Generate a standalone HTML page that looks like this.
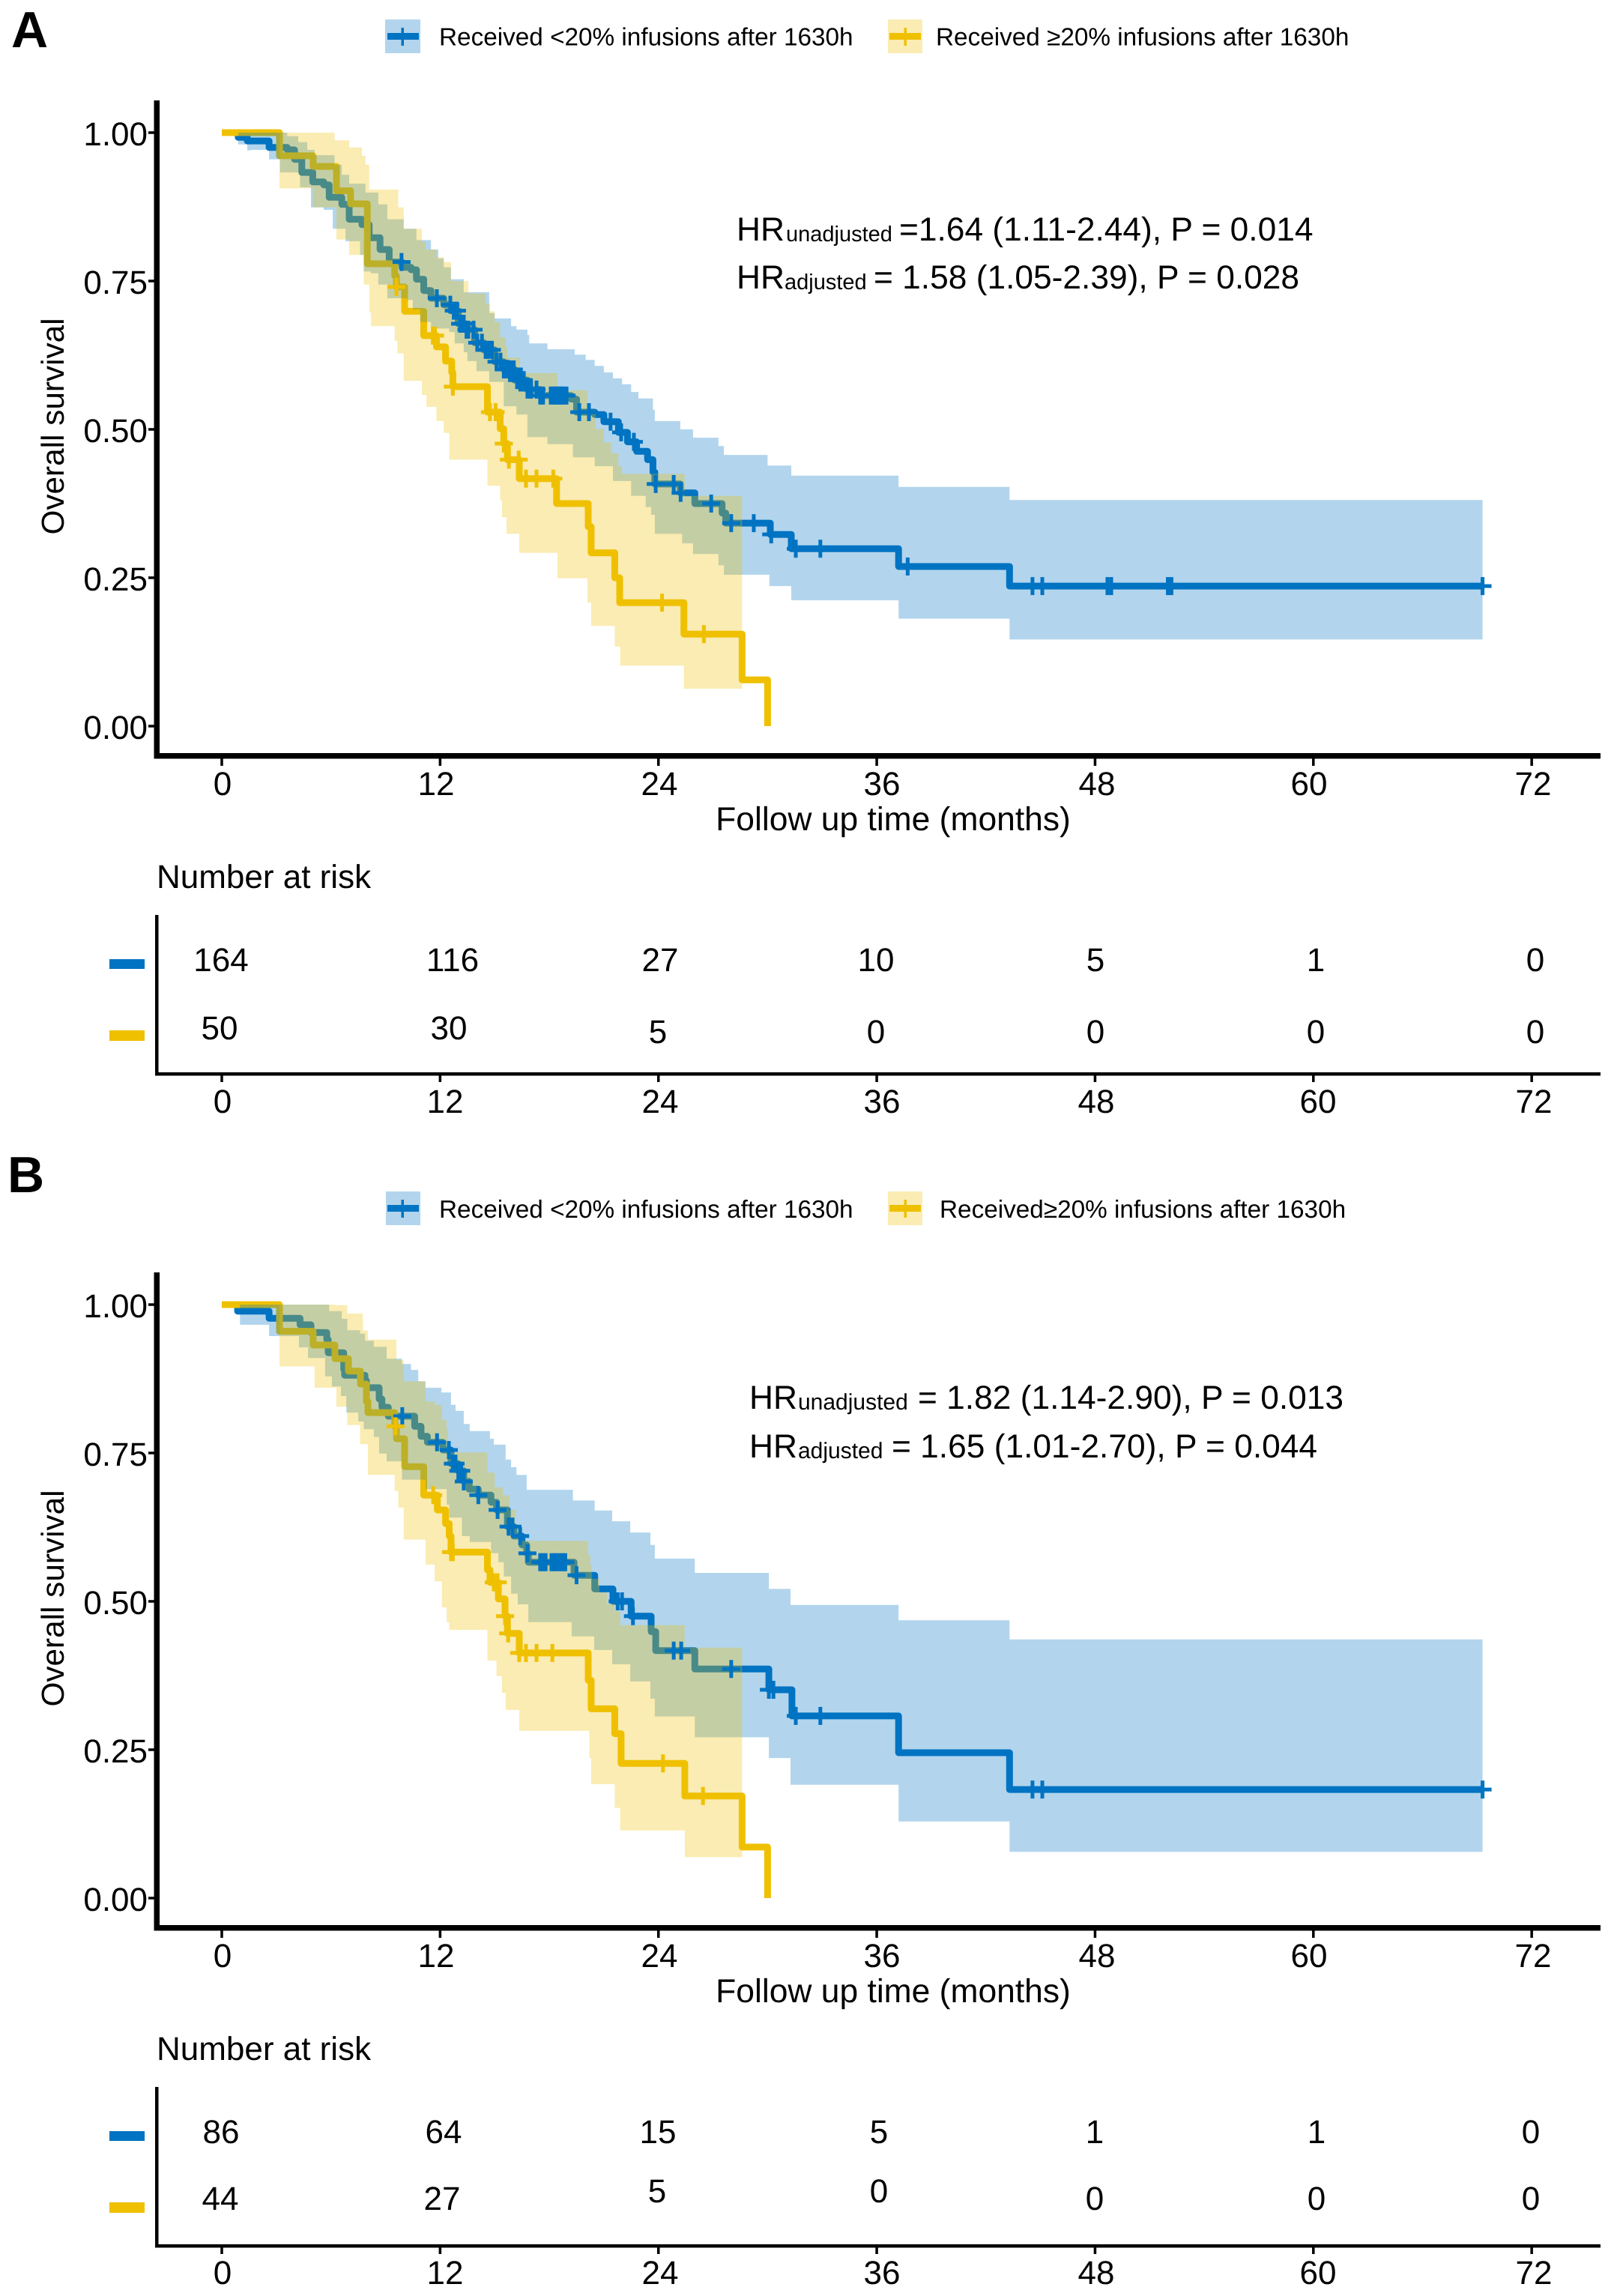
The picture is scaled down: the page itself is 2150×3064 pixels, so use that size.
<!DOCTYPE html>
<html lang="en">
<head>
<meta charset="utf-8">
<title>Overall survival by late infusion share</title>
<style>
html,body{margin:0;padding:0;background:#fff;}
svg{display:block;}
text{font-family:"Liberation Sans",Arial,sans-serif;fill:#000;text-rendering:geometricPrecision;}
.t44{font-size:44px;}
.hr{font-size:44.3px;}
.ttl{font-size:44.4px;text-anchor:middle;}
.m{font-size:44px;text-anchor:middle;}
.leg{font-size:33.3px;}
.sub{font-size:29px;}
.sub30{font-size:30px;}
.letter{font-size:68px;font-weight:bold;}
</style>
</head>
<body>
<svg id="figure" xmlns="http://www.w3.org/2000/svg" width="2150" height="3064" viewBox="0 0 2150 3064">
<rect x="0" y="0" width="2150" height="3064" fill="#fff"/>

<!-- PANEL A static text -->
<text class="letter" x="15" y="63">A</text>
<g>
<rect x="514" y="26" width="47" height="45" fill="#0073C2" fill-opacity="0.3"/>
<rect x="517" y="44" width="42" height="9" fill="#0073C2"/>
<rect x="535.5" y="37" width="3.5" height="24" fill="#0073C2"/>
<text class="leg" x="586" y="60.5">Received &lt;20% infusions after 1630h</text>
<rect x="1185" y="26" width="46" height="45" fill="#EFC000" fill-opacity="0.3"/>
<rect x="1187" y="44" width="42" height="9" fill="#EFC000"/>
<rect x="1206.5" y="37" width="3.5" height="24" fill="#EFC000"/>
<text class="leg" x="1249" y="60.5">Received ≥20% infusions after 1630h</text>
</g>
<text class="hr" x="983" y="321">HR<tspan class="sub" x="1049" dy="1">unadjusted</tspan><tspan x="1200" dy="-1">=1.64 (1.11-2.44), P = 0.014</tspan></text>
<text class="hr" x="983" y="385">HR<tspan class="sub" x="1047" dy="1">adjusted</tspan><tspan x="1166" dy="-1">= 1.58 (1.05-2.39), P = 0.028</tspan></text>
<text transform="translate(85,569) rotate(-90)" text-anchor="middle" font-size="42.3">Overall survival</text>
<text class="ttl" x="1192" y="1108">Follow up time (months)</text>
<g>
<text class="m" x="297" y="1061">0</text>
<text class="m" x="582" y="1061">12</text>
<text class="m" x="880" y="1061">24</text>
<text class="m" x="1177" y="1061">36</text>
<text class="m" x="1464" y="1061">48</text>
<text class="m" x="1747" y="1061">60</text>
<text class="m" x="2046" y="1061">72</text>
</g>
<text class="t44" x="209" y="1185">Number at risk</text>
<rect x="146" y="1280" width="47" height="13" fill="#0073C2"/>
<rect x="146" y="1375" width="47" height="14" fill="#EFC000"/>
<g>
<text class="m" x="295" y="1296">164</text>
<text class="m" x="604" y="1296">116</text>
<text class="m" x="881" y="1296">27</text>
<text class="m" x="1169" y="1296">10</text>
<text class="m" x="1462" y="1296">5</text>
<text class="m" x="1756" y="1296">1</text>
<text class="m" x="2049" y="1296">0</text>
</g>
<g>
<text class="m" x="293" y="1387">50</text>
<text class="m" x="599" y="1387">30</text>
<text class="m" x="878" y="1392">5</text>
<text class="m" x="1169" y="1392">0</text>
<text class="m" x="1462" y="1392">0</text>
<text class="m" x="1756" y="1392">0</text>
<text class="m" x="2049" y="1392">0</text>
</g>
<g>
<text class="m" x="297" y="1485">0</text>
<text class="m" x="594" y="1485">12</text>
<text class="m" x="881" y="1485">24</text>
<text class="m" x="1177" y="1485">36</text>
<text class="m" x="1463" y="1485">48</text>
<text class="m" x="1759" y="1485">60</text>
<text class="m" x="2047" y="1485">72</text>
</g>

<!-- PANEL B static text -->
<text class="letter" x="10" y="1591">B</text>
<g>
<rect x="515" y="1590" width="46" height="45" fill="#0073C2" fill-opacity="0.3"/>
<rect x="517" y="1608" width="42" height="9" fill="#0073C2"/>
<rect x="535.5" y="1601" width="3.5" height="24" fill="#0073C2"/>
<text class="leg" x="586" y="1625">Received &lt;20% infusions after 1630h</text>
<rect x="1185" y="1590" width="46" height="45" fill="#EFC000" fill-opacity="0.3"/>
<rect x="1187" y="1608" width="42" height="9" fill="#EFC000"/>
<rect x="1206.5" y="1601" width="3.5" height="24" fill="#EFC000"/>
<text class="leg" x="1254" y="1625">Received≥20% infusions after 1630h</text>
</g>
<text class="hr" x="1000" y="1880">HR<tspan class="sub30" x="1065" dy="1">unadjusted</tspan><tspan x="1225" dy="-1">= 1.82 (1.14-2.90), P = 0.013</tspan></text>
<text class="hr" x="1000" y="1945">HR<tspan class="sub30" x="1065" dy="1">adjusted</tspan><tspan x="1190" dy="-1">= 1.65 (1.01-2.70), P = 0.044</tspan></text>
<text transform="translate(85,2133) rotate(-90)" text-anchor="middle" font-size="42.3">Overall survival</text>
<text class="ttl" x="1192" y="2672">Follow up time (months)</text>
<g>
<text class="m" x="297" y="2625">0</text>
<text class="m" x="582" y="2625">12</text>
<text class="m" x="880" y="2625">24</text>
<text class="m" x="1177" y="2625">36</text>
<text class="m" x="1464" y="2625">48</text>
<text class="m" x="1747" y="2625">60</text>
<text class="m" x="2046" y="2625">72</text>
</g>
<text class="t44" x="209" y="2749">Number at risk</text>
<rect x="146" y="2844" width="47" height="13" fill="#0073C2"/>
<rect x="146" y="2939" width="47" height="14" fill="#EFC000"/>
<g>
<text class="m" x="295" y="2860">86</text>
<text class="m" x="592" y="2860">64</text>
<text class="m" x="878" y="2860">15</text>
<text class="m" x="1173" y="2860">5</text>
<text class="m" x="1461" y="2860">1</text>
<text class="m" x="1757" y="2860">1</text>
<text class="m" x="2043" y="2860">0</text>
</g>
<g>
<text class="m" x="294" y="2949">44</text>
<text class="m" x="590" y="2949">27</text>
<text class="m" x="877" y="2939">5</text>
<text class="m" x="1173" y="2939">0</text>
<text class="m" x="1461" y="2949">0</text>
<text class="m" x="1757" y="2949">0</text>
<text class="m" x="2043" y="2949">0</text>
</g>
<g>
<text class="m" x="297" y="3048">0</text>
<text class="m" x="594" y="3048">12</text>
<text class="m" x="881" y="3048">24</text>
<text class="m" x="1177" y="3048">36</text>
<text class="m" x="1463" y="3048">48</text>
<text class="m" x="1759" y="3048">60</text>
<text class="m" x="2047" y="3048">72</text>
</g>
</svg>

<script>
// Axis ticks
var xTicks = [0, 12, 24, 36, 48, 60, 72];
var yTicks = [0, 0.25, 0.5, 0.75, 1];
var yTickLabels = ['0.00', '0.25', '0.50', '0.75', '1.00'];

// Panel A, blue group (<20%)
var aBlueTime = [0,0.9,1.4,2.6,3.6,4.0,4.4,5.0,5.6,5.9,6.6,7.0,7.7,8.1,8.7,9.2,9.9,10.4,10.7,11.1,11.5,12.2,12.6,13.0,13.4,13.9,14.4,15.0,15.5,16.1,16.8,17.5,19.2,19.5,20.5,21.0,21.8,22.3,22.8,23.4,23.7,23.8,25.2,26.0,27.5,27.7,30.15,31.3,37.2,43.3,69.3];
var aBlueSurv = [1,.992,.986,.975,.971,.955,.933,.917,.912,.891,.879,.854,.845,.823,.803,.782,.773,.769,.753,.734,.721,.710,.700,.678,.668,.646,.634,.614,.601,.583,.567,.557,.551,.529,.525,.513,.495,.479,.463,.449,.428,.408,.393,.375,.359,.342,.323,.299,.269,.236,.236];
var aBlueUpperTime = [0,3.3,3.6,4.2,4.7,5.1,6.2,6.6,7.0,7.9,8.6,9.1,10.0,10.7,11.5,11.9,12.2,12.6,13.3,14.7,15.0,15.9,16.2,16.8,16.9,17.9,19.4,20.0,20.5,21.0,21.5,22.0,22.5,22.9,23.7,23.8,25.2,25.9,27.3,27.6,30.0,31.3,37.2,43.3,69.3];
var aBlueUpper = [1,1,.994,.984,.971,.962,.946,.929,.914,.899,.879,.854,.838,.819,.803,.788,.773,.753,.731,.696,.687,.674,.668,.659,.645,.635,.626,.617,.607,.596,.586,.576,.563,.552,.533,.514,.500,.486,.472,.457,.439,.422,.403,.381,.381];
var aBlueLowerTime = [0,0.9,1.4,1.6,2.6,3.2,4.3,4.9,5.6,6.1,6.8,7.6,7.8,8.2,8.6,9.1,10.2,10.5,10.9,11.5,12.5,12.8,13.3,13.5,14.0,14.7,15.5,16.2,16.8,17.9,19.3,20.5,21.5,22.5,23.3,23.6,23.8,25.3,25.9,27.3,27.6,30.1,31.3,37.2,43.3,69.3];
var aBlueLower = [1,.98,.97,.971,.955,.933,.908,.874,.870,.838,.817,.794,.766,.763,.744,.721,.718,.702,.681,.670,.664,.645,.630,.615,.598,.580,.539,.525,.487,.475,.453,.438,.413,.388,.369,.356,.324,.308,.290,.271,.255,.236,.212,.181,.146,.146];
var aBlueCensor = [9.88,11.82,12.56,12.75,12.93,13.1,13.3,13.45,13.55,13.84,14.04,14.3,14.5,14.66,14.85,15.1,15.32,15.5,15.7,15.86,16.05,16.23,16.4,16.6,16.8,16.95,17.0,17.3,17.5,17.66,18.08,18.2,18.28,18.35,18.45,18.55,18.62,18.7,18.82,18.95,19.65,20.18,21.37,21.95,22.65,23.85,24.84,25.22,26.9,28.0,29.24,30.2,31.55,32.9,37.7,44.56,45.1,48.68,48.89,52.0,52.2,69.3];

// Panel A, yellow group (>=20%)
var aYellowTime = [0,3.17,5.02,6.3,7.08,8.0,9.5,9.6,10.05,11.1,11.8,12.3,12.64,12.7,14.6,15.3,15.5,15.7,16.35,18.4,20.14,20.3,21.6,21.87,25.4,28.6,30.0];
var aYellowSurv = [1,.961,.943,.902,.880,.779,.759,.740,.699,.658,.639,.615,.596,.572,.529,.501,.476,.449,.417,.375,.336,.292,.250,.208,.155,.078,0];
var aYellowUpperTime = [0,6.2,7.0,7.7,7.9,8.1,9.7,10.0,11.0,11.2,11.8,12.2,12.6,13.55,14.5,14.75,15.0,15.3,15.6,15.7,16.4,18.45,20.1,20.55,21.0,21.4,21.8,22.0,25.45,28.6];
var aYellowUpper = [1,.987,.975,.961,.946,.904,.874,.838,.816,.803,.790,.782,.75,.729,.712,.699,.681,.655,.639,.621,.595,.566,.533,.501,.478,.460,.438,.425,.388,.388];
var aYellowLowerTime = [0,3.17,5.0,6.3,7.0,7.8,8.1,8.2,9.5,9.65,10.0,11.0,11.25,11.8,12.2,12.5,14.6,15.3,15.4,15.65,16.35,18.45,20.1,20.3,21.6,21.9,25.4,28.6];
var aYellowLower = [1,.906,.874,.82,.794,.744,.697,.674,.649,.628,.582,.558,.538,.514,.494,.449,.405,.380,.352,.324,.292,.249,.208,.169,.134,.102,.063,.063];
var aYellowCensor = [9.6,11.6,11.72,12.7,14.74,15.05,15.5,15.78,16.32,16.72,17.3,18.22,24.2,26.5];

// Panel B, blue group (<20%)
var bBlueTime = [0,0.87,2.6,4.3,4.9,5.77,5.85,6.7,6.75,7.87,7.95,8.65,8.8,9.15,10.6,10.95,11.3,12.15,12.6,13.0,13.3,13.6,14.1,14.8,15.1,15.7,16.06,16.5,16.76,16.85,19.36,20.5,21.5,22.5,23.6,23.85,26.0,30.07,31.34,37.2,43.3,69.3];
var bBlueSurv = [1,.989,.977,.966,.953,.941,.919,.891,.881,.872,.860,.841,.827,.812,.795,.778,.768,.755,.732,.720,.702,.689,.679,.667,.654,.626,.610,.595,.581,.566,.544,.521,.500,.475,.449,.417,.386,.351,.307,.245,.183,.183];
var bBlueUpperTime = [0,5.9,6.6,6.9,7.6,7.87,8.36,9.06,9.9,10.4,10.8,11.2,12.07,12.6,12.85,13.3,13.63,14.74,14.95,15.6,15.9,16.2,16.76,19.3,20.5,21.46,22.45,23.56,23.8,26.0,30.07,31.26,37.2,43.3,69.3];
var bBlueUpper = [1,.989,.976,.957,.951,.939,.929,.909,.900,.890,.871,.860,.852,.831,.821,.799,.787,.774,.764,.739,.726,.713,.688,.670,.653,.635,.616,.595,.572,.548,.521,.494,.468,.436,.436];
var bBlueLowerTime = [0,1.0,2.6,4.24,4.74,5.68,6.05,6.55,6.84,7.5,7.8,8.36,8.65,9.06,9.9,11.2,12.36,12.5,13.2,13.63,14.8,15.2,15.5,15.9,16.27,16.85,19.23,20.47,21.46,22.45,23.56,23.8,26.0,30.07,31.26,37.2,43.3,69.3];
var bBlueLower = [1,.966,.947,.928,.910,.879,.862,.846,.818,.803,.790,.777,.749,.736,.705,.689,.663,.641,.610,.600,.581,.566,.542,.513,.495,.465,.441,.418,.394,.365,.336,.306,.271,.236,.191,.129,.078,.078];
var bBlueCensor = [9.92,11.83,12.48,12.7,12.85,13.0,13.16,13.3,14.1,15.16,15.76,15.98,16.4,16.8,17.5,17.66,17.8,18.12,18.28,18.4,18.6,18.75,18.88,19.5,21.76,22.0,22.6,24.84,25.25,28.0,30.07,30.32,31.55,32.9,44.56,45.1,69.3];

// Panel B, yellow group (>=20%)
var bYellowTime = [0,3.17,5.02,6.22,6.96,7.62,7.95,8.03,9.5,9.6,10.05,11.1,11.85,12.3,12.5,12.6,14.6,14.74,15.2,15.57,15.7,16.35,20.14,20.3,21.6,21.95,25.45,28.6,30.0];
var bYellowSurv = [1,.955,.932,.909,.888,.866,.837,.818,.795,.774,.727,.679,.654,.631,.610,.583,.553,.532,.504,.475,.446,.413,.367,.319,.277,.227,.172,.086,0];
var bYellowUpperTime = [0,6.22,6.9,7.75,7.76,8.03,9.6,10.0,11.2,11.7,12.1,12.36,12.44,14.6,15.0,15.45,15.8,16.15,16.47,20.14,20.26,20.35,20.76,21.17,21.6,21.9,25.45,28.6];
var bYellowUpper = [1,.999,.985,.972,.956,.941,.907,.871,.837,.831,.806,.790,.751,.717,.692,.679,.654,.629,.602,.578,.561,.538,.515,.496,.484,.460,.422,.422];
var bYellowLowerTime = [0,3.17,5.1,6.3,6.9,7.6,8.03,9.5,9.7,10.0,11.2,11.7,12.1,12.36,12.5,14.6,15.1,15.4,15.6,16.35,20.2,20.3,21.6,21.9,25.45,28.6];
var bYellowLower = [1,.896,.860,.828,.797,.765,.713,.686,.658,.604,.562,.534,.490,.465,.452,.400,.374,.346,.317,.282,.236,.192,.152,.114,.069,.069];
var bYellowCensor = [9.55,11.62,12.6,12.7,14.95,15.16,15.57,15.74,16.35,16.72,17.3,18.17,24.25,26.45];

var svgNS = 'http://www.w3.org/2000/svg';
var BLUE = '#0073C2';
var YELLOW = '#EFC000';
var svgRoot = document.getElementById('figure');

function xScale(t) { return 296 + t * 24.28; }
function yScale(s, offset) { return offset + 969 - s * 792; }

function stepVertices(times, vals) {
  var pts = [[times[0], vals[0]]];
  for (var i = 1; i < times.length; i++) {
    pts.push([times[i], vals[i - 1]]);
    pts.push([times[i], vals[i]]);
  }
  return pts;
}
function pathFrom(pts, offset) {
  return pts.map(function (p, i) {
    return (i ? 'L' : 'M') + xScale(p[0]).toFixed(1) + ' ' + yScale(p[1], offset).toFixed(1);
  }).join(' ');
}
function survAt(times, vals, t) {
  var v = vals[0];
  for (var i = 0; i < times.length; i++) { if (times[i] <= t) v = vals[i]; }
  return v;
}
function makeEl(tag, parent) {
  var el = document.createElementNS(svgNS, tag);
  parent.appendChild(el);
  return el;
}
function drawLine(parent, times, vals, color, offset, name) {
  var line = makeEl('path', parent);
  
  
  line.setAttribute('d', pathFrom(stepVertices(times, vals), offset));
  line.setAttribute('fill', 'none');
  line.setAttribute('stroke', color);
  line.setAttribute('stroke-width', '9');
  line.setAttribute('stroke-linejoin', 'round');
}
function drawRibbon(parent, ut, u, lt, l, color, offset, name) {
  var band = makeEl('path', parent);
  
  
  var pts = stepVertices(ut, u).concat(stepVertices(lt, l).reverse());
  band.setAttribute('d', pathFrom(pts, offset) + ' Z');
  band.setAttribute('fill', color);
  band.setAttribute('fill-opacity', '0.3');
}
function drawCensors(parent, censors, times, vals, color, offset, name) {
  censors.forEach(function (t) {
    var cross = makeEl('path', parent);
    
    
    var cx = xScale(t);
    var cy = yScale(survAt(times, vals, t), offset);
    cross.setAttribute('d', 'M' + (cx - 12) + ' ' + cy + ' H' + (cx + 12) + ' M' + cx + ' ' + (cy - 12) + ' V' + (cy + 12));
    cross.setAttribute('stroke', color);
    cross.setAttribute('stroke-width', '5');
    cross.setAttribute('fill', 'none');
  });
}
function drawRect(parent, x, y, w, h, name) {
  var r = makeEl('rect', parent);
  
  
  r.setAttribute('x', x);
  r.setAttribute('y', y);
  r.setAttribute('width', w);
  r.setAttribute('height', h);
  r.setAttribute('fill', '#000');
}
function drawAxes(parent, offset) {
  drawRect(parent, 205.5, offset + 134, 7.5, 878.5, 'y-axis-line');
  drawRect(parent, 205.5, offset + 1005, 1930.5, 7.5, 'x-axis-line');
  yTicks.forEach(function (v, i) {
    var yy = yScale(v, offset);
    drawRect(parent, 198, yy - 1.75, 8, 3.5, 'y-tick');
    var label = makeEl('text', parent);
    
    
    label.setAttribute('x', 197);
    label.setAttribute('y', yy + 17);
    label.setAttribute('text-anchor', 'end');
    label.setAttribute('font-size', '44');
    label.textContent = yTickLabels[i];
  });
  xTicks.forEach(function (t) {
    drawRect(parent, xScale(t) - 1.75, offset + 1012, 3.5, 10, 'x-tick');
  });
  drawRect(parent, 207, offset + 1221, 4.5, 214.5, 'risk-table-y-axis');
  drawRect(parent, 207, offset + 1431, 1929, 4.5, 'risk-table-x-axis');
  xTicks.forEach(function (t) {
    drawRect(parent, xScale(t) - 1.75, offset + 1435, 3.5, 9, 'risk-table-tick');
  });
}
function drawPanel(offset, bt, bs, but, bu, blt, bl, bc, yt, ys, yut, yu, ylt, yl, yc) {
  var g = makeEl('g', svgRoot);
  
  
  // lines lie beneath the translucent bands, censor marks above them
  drawLine(g, bt, bs, BLUE, offset, 'blue');
  drawLine(g, yt, ys, YELLOW, offset, 'yellow');
  drawRibbon(g, but, bu, blt, bl, BLUE, offset, 'blue');
  drawRibbon(g, yut, yu, ylt, yl, YELLOW, offset, 'yellow');
  drawCensors(g, bc, bt, bs, BLUE, offset, 'blue');
  drawCensors(g, yc, yt, ys, YELLOW, offset, 'yellow');
  drawAxes(g, offset);
}
drawPanel(0, aBlueTime, aBlueSurv, aBlueUpperTime, aBlueUpper, aBlueLowerTime, aBlueLower, aBlueCensor,
  aYellowTime, aYellowSurv, aYellowUpperTime, aYellowUpper, aYellowLowerTime, aYellowLower, aYellowCensor);
drawPanel(1564, bBlueTime, bBlueSurv, bBlueUpperTime, bBlueUpper, bBlueLowerTime, bBlueLower, bBlueCensor,
  bYellowTime, bYellowSurv, bYellowUpperTime, bYellowUpper, bYellowLowerTime, bYellowLower, bYellowCensor);
</script>
</body>
</html>
